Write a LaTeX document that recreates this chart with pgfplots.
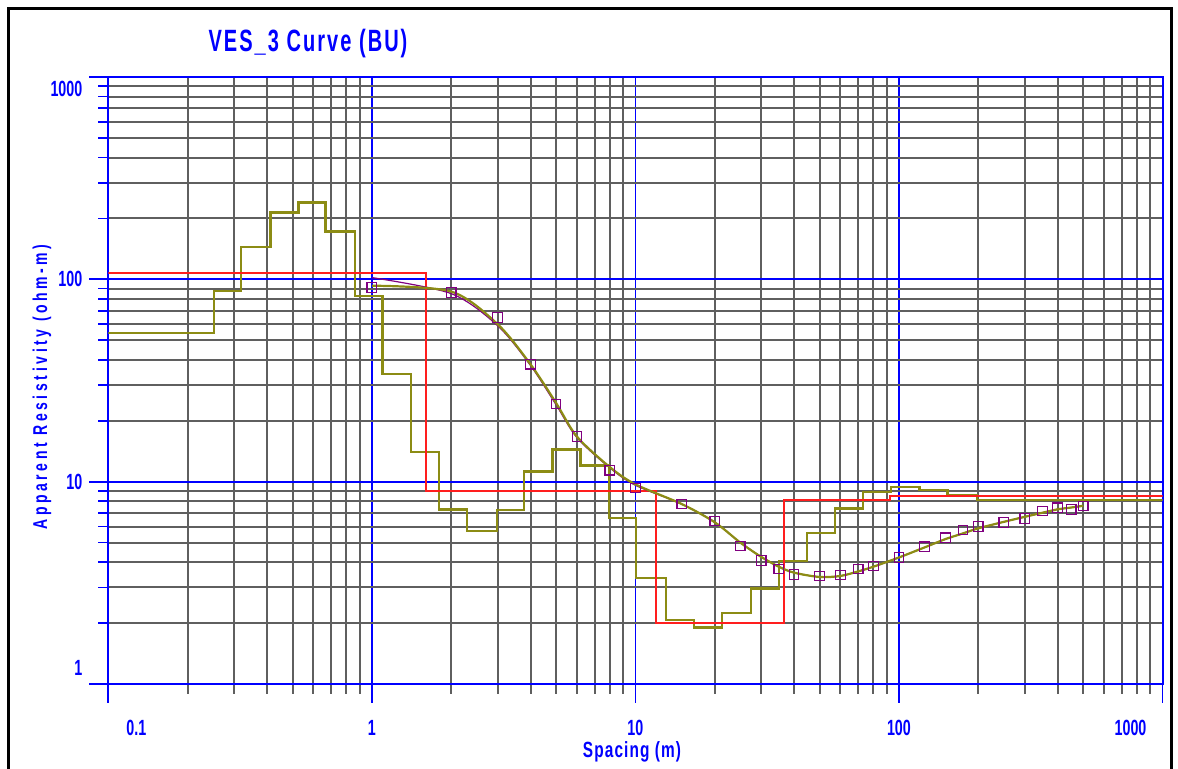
\documentclass[border=0pt]{standalone}
\usepackage{pgfplots}
\pgfplotsset{compat=1.18}
\usepackage{fontspec}
\setmainfont{Liberation Sans}
\newfontfamily\tickfont{Liberation Sans}[FakeStretch=0.65]
\newfontfamily\titlefont{Liberation Sans}[FakeStretch=0.65,LetterSpace=6.6]
\newfontfamily\ylabfont{Liberation Sans}[FakeStretch=0.7,LetterSpace=18]
\newfontfamily\xlabfont{Liberation Sans}[FakeStretch=0.7,LetterSpace=5]
\definecolor{vblue}{RGB}{0,0,255}
\definecolor{vgrid}{RGB}{95,95,95}
\definecolor{vred}{RGB}{255,30,30}
\definecolor{volive}{RGB}{140,140,20}
\definecolor{vpurple}{RGB}{128,0,128}

\pgfplotstableread{
x y
0.1 54.2
0.252 87.5
0.319 144.6
0.412 214
0.526 240
0.668 172
0.864 82.6
1.096 34.0
1.405 14.0
1.80 7.3
2.30 5.7
2.98 7.24
3.78 11.2
4.84 14.4
6.20 12.0
7.96 6.6
10.06 3.33
13.08 2.07
16.7 1.90
21.3 2.25
27.4 2.97
35.1 4.05
44.7 5.59
57.3 7.38
73.0 8.91
93.1 9.43
119.6 9.09
152.8 8.58
197.5 8.11
1000 8.11
}\oliveStep

\pgfplotstableread{
x y
0.1 108
1.606 9.0
12.0 2.0
36.6 8.1
92.6 8.5
1000 8.5
}\redModel

\pgfplotstableread{
x y
1 91.2
2 86.1
3 64.8
4 38.1
5 24.2
6 16.7
8 11.4
10 9.3
15 7.75
20 6.39
25 4.81
30 4.08
35 3.70
40 3.48
50 3.42
60 3.46
70 3.70
80 3.83
100 4.21
125 4.77
150 5.28
175 5.77
200 5.99
250 6.29
300 6.59
350 7.16
400 7.43
450 7.30
500 7.58
}\fieldData

\pgfplotstableread{
x y
1 93
2 87
3 60
4 38
5 24.5
6 16.7
8 11.8
10 9.7
15 7.75
20 6.3
25 5.0
30 4.25
35 3.8
40 3.55
50 3.38
60 3.42
70 3.6
80 3.8
100 4.22
125 4.73
150 5.2
175 5.55
200 5.88
250 6.33
300 6.7
350 7.02
400 7.3
450 7.45
500 7.6
}\calcCurve

\pgfplotstableread{
x y
1 102
2 85
3 59
4 37.5
5 24
6 16.5
8 11.7
10 9.6
15 7.75
20 6.3
25 5.0
30 4.25
35 3.8
40 3.55
50 3.38
60 3.42
70 3.6
80 3.8
100 4.22
125 4.73
150 5.2
175 5.55
200 5.88
250 6.33
300 6.7
350 7.02
400 7.3
450 7.45
500 7.6
}\smoothData

\begin{document}
\begin{tikzpicture}
\useasboundingbox (0pt,0pt) rectangle (589pt,384.5pt);
\draw[black, line width=1.5pt] (4pt,-10pt) -- (4pt,380pt) -- (585.5pt,380pt) -- (585.5pt,-10pt);
\begin{axis}[
  at={(54.15pt,42.5pt)}, anchor=south west,
  scale only axis, width=527.1pt, height=303.5pt,
  xmode=log, ymode=log,
  xmin=0.1, xmax=1000, ymin=1, ymax=1000,
  xtick={0.1,1,10,100,1000},
  xticklabels={\makebox[0pt]{\hspace*{28pt}0.1},1,10,100,\makebox[0pt]{1000\hspace*{32pt}}},
  ytick={1,10,100,1000},
  yticklabels={\smash{\raisebox{4.06pt}{1}},10,100,\smash{\raisebox{-9.8pt}{1000}}},
  minor xtick={0.2,0.3,0.4,0.5,0.6,0.7,0.8,0.9,2,3,4,5,6,7,8,9,20,30,40,50,60,70,80,90,200,300,400,500,600,700,800,900},
  minor ytick={2,3,4,5,6,7,8,9,20,30,40,50,60,70,80,90,200,300,400,500,600,700,800,900},
  xtick pos=bottom, ytick pos=left,
  tick align=outside,
  major tick length=9.5pt, minor tick length=5pt,
  major tick style={vblue, line width=0.9pt},
  minor y tick style={vblue, line width=0.9pt},
  minor x tick style={vgrid, line width=1pt},
  grid=both,
  major grid style={vblue, line width=0.9pt},
  minor grid style={vgrid, line width=1pt},
  axis line style={vblue, line width=1pt},
  ticklabel style={font=\tickfont\bfseries\fontsize{11}{12}\selectfont, text=vblue},
  xticklabel style={yshift=-5pt},
  clip=true,
]
\addplot[volive, line width=1.2pt, const plot] table {\oliveStep};
\addplot[vred, line width=1pt, const plot] table {\redModel};
\addplot[vpurple, line width=0.6pt, smooth] table {\smoothData};
\addplot[volive, line width=1.1pt, smooth] table {\calcCurve};
\addplot[only marks, mark=square, mark size=2.4pt, mark options={vpurple, line width=0.6pt}] table {\fieldData};
\end{axis}
\node[text=vblue, font=\titlefont\bfseries\fontsize{15.4}{17}\selectfont] at (154pt,362.5pt) {VES\_3 Curve (BU)};
\node[text=vblue, rotate=90, font=\ylabfont\bfseries\fontsize{10}{12}\selectfont] at (21pt,191pt) {Apparent Resistivity (ohm-m)};
\node[text=vblue, font=\xlabfont\bfseries\fontsize{11}{13}\selectfont] at (316pt,8.5pt) {Spacing (m)};
\end{tikzpicture}
\end{document}
